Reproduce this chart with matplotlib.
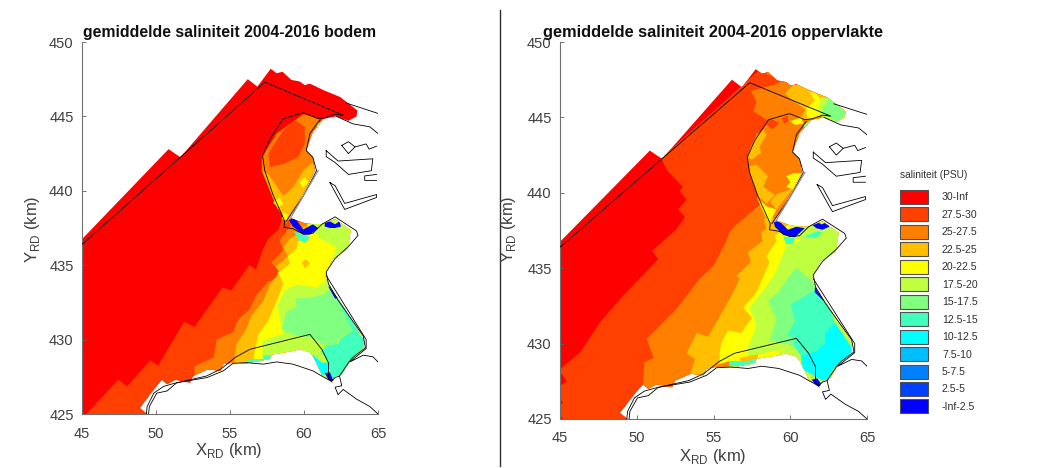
import matplotlib
matplotlib.use("Agg")
import matplotlib.pyplot as plt
from matplotlib.patches import Rectangle

plt.rcParams['font.family'] = ['Liberation Sans', 'DejaVu Sans']
plt.rcParams['mathtext.fontset'] = 'custom'
plt.rcParams['mathtext.rm'] = 'Liberation Sans'

# ---------- salinity classes ----------
CLASS_LABELS = ['30-Inf', '27.5-30', '25-27.5', '22.5-25', '20-22.5', '17.5-20', '15-17.5',
                '12.5-15', '10-12.5', '7.5-10', '5-7.5', '2.5-5', '-Inf-2.5']
CLASS_COLORS = ['#ff0000', '#ff4000', '#ff8000', '#ffbf00', '#ffff00', '#bfff40', '#80ff80',
                '#40ffbf', '#00ffff', '#00bfff', '#0080ff', '#0040ff', '#0000ff']
C = dict(zip(['c30', 'c275', 'c25', 'c225', 'c20', 'c175', 'c15', 'c125', 'c10', 'c75', 'c5', 'c25b', 'c0'],
             CLASS_COLORS))

# ---------- model domain (km, RD coordinates) ----------
DOMAIN = [(45, 425), (45, 436.75), (50.85, 442.8), (51.65, 442.25), (56.2, 447.5), (56.85, 447.0),
          (57.75, 448.2), (58.15, 447.9), (58.55, 448.0), (59.15, 447.45), (59.7, 447.35), (60.05, 447.1),
          (60.4, 447.2), (61.35, 446.75), (62.45, 446.3), (63.6, 445.4), (63.55, 445.0), (63.0, 444.7),
          (62.2, 445.0), (61.4, 444.85), (60.6, 443.95), (60.15, 442.7), (60.6, 442.25), (60.75, 441.35),
          (59.95, 439.8), (58.85, 438.0), (59.15, 438.15), (59.95, 437.85), (60.6, 437.75), (61.2, 437.75),
          (62.1, 438.1), (63.15, 437.35), (62.95, 436.1), (61.95, 435.45), (61.4, 434.3), (61.75, 433.5),
          (62.4, 432.6), (64, 430.05), (64, 429.45), (63.1, 428.55), (62.55, 427.65), (62.1, 427.55),
          (61.9, 427.1), (61.2, 427.65), (60.65, 428.8), (60.4, 429.15), (59.7, 429.35), (59.05, 429.2),
          (57.8, 429.0), (57.7, 428.7), (56.1, 428.4), (55.2, 428.45), (54.55, 428.35), (54.35, 427.9),
          (53.5, 428.0), (52.5, 427.55), (52.3, 427.1), (51.3, 427.3), (50.75, 427.0), (50.4, 427.3),
          (49.85, 426.65), (48.9, 425.4), (49.4, 425)]

# ---------- bottom salinity regions ----------
BODEM_275 = [(45.3, 425), (47.45, 427.3), (48.05, 426.85), (49.6, 428.6), (50.15, 428.25), (51.9, 431.2),
             (52.6, 430.85), (54.5, 433.5), (55.1, 433.3), (56.3, 435), (56.75, 434.7), (57.2, 436),
             (57.6, 436.8), (58.3, 437.4), (58.5, 438.1), (59, 438.6), (70, 438.6), (70, 425)]
BODEM_25 = [(52.6, 425), (52.6, 428.2), (53.9, 428.8), (54.1, 430), (55.2, 430.5), (55.6, 431.4), (56.3, 432),
            (56.8, 433), (57.6, 433.9), (58.05, 434), (58.25, 434.65), (57.8, 435.2), (58.6, 436), (58.35, 436.7),
            (58.8, 437.25), (59.2, 437.9), (70, 437.9), (70, 425)]
BODEM_225 = [(55.3, 425), (55.3, 428.8), (55.45, 429.7), (56.1, 430.7), (56.45, 431.6), (57.25, 432.6),
             (57.8, 433.9), (58.4, 434.5), (58.1, 434.9), (58.9, 435.6), (58.6, 436.2), (59.05, 436.8),
             (59.5, 437.05), (60, 437.6), (70, 437.6), (70, 425)]
BODEM_20 = [(56.6, 425), (56.6, 428.8), (56.9, 430.3), (57.6, 431.3), (58.25, 432.85), (58.6, 433.75),
            (58.25, 434.5), (59.05, 435.1), (58.9, 435.6), (59.5, 436.1), (59.6, 436.6), (60.2, 437),
            (60.2, 438), (70, 438), (70, 425)]
BODEM_SPOT_225 = [(59.85, 435.2), (60.15, 435.4), (60.4, 435.1), (60.05, 434.8)]
BODEM_175 = [(57.2, 425), (57.2, 429.9), (58.6, 430.4), (58.4, 431.2), (58.2, 432.3), (58.7, 433.3), (59.5, 433.7),
             (60.85, 433.5), (61.4, 433.9), (62, 435.6), (62.2, 436.2), (61.05, 436.8), (60.85, 437.1),
             (60.4, 437.1), (60.4, 438.5), (70, 438.5), (70, 425)]
BODEM_15 = [(59.4, 432.75), (60.6, 432.85), (61.5, 433.1), (61.85, 433.55), (62.4, 432.75), (63.1, 431.6),
            (63.3, 430.7), (62.3, 430), (62.1, 429.6), (61.2, 429.7), (60.6, 430.15), (59.5, 430.25),
            (58.5, 430.7), (58.8, 431.85), (59.5, 432.2)]
BODEM_125_SE = [(62.3, 429.7), (62.5, 430.1), (63.3, 430.6), (64.2, 430), (64.2, 429.4), (63.1, 428.5),
                (62.6, 427.4), (61.7, 427.4), (61.7, 428.5), (61.1, 429.2), (61.6, 429.6)]
BODEM_125_COAST = [(61.85, 433.4), (62.55, 432.6), (64, 430.25), (63.3, 430.6), (62.4, 432.4)]
BODEM_125_W = [(56, 428.55), (56.6, 428.7), (57.25, 428.7), (57.25, 428.95), (57.8, 428.95), (57.8, 428.55),
               (57.15, 428.35), (56.1, 428.35)]
BODEM_125_N = [(59.3, 437.3), (59.9, 437.05), (60.4, 436.9), (60.1, 436.5), (59.7, 436.65)]
BODEM_10 = [(60.6, 429), (61.2, 428.45), (61.75, 428.45), (61.65, 427.8), (61.2, 427.6), (60.6, 428.3)]
BODEM_0_A = [(58.95, 438.1), (59.4, 438.15), (59.95, 437.4), (60.6, 437.75), (60.95, 437.5), (60.4, 437.05),
             (59.95, 437.05), (59.25, 437.6)]
BODEM_0_B = [(61.4, 437.85), (61.75, 437.95), (62.1, 437.75), (62.4, 437.95), (62.5, 437.6), (62.1, 437.5),
             (61.75, 437.5), (61.4, 437.6)]
BODEM_0_C = [(61.65, 433.55), (61.85, 433.65), (62.4, 432.85), (62.1, 432.75)]
BODEM_0_D = [(61.4, 427.75), (61.75, 427.8), (62, 427.2), (61.65, 427.3)]
BODEM_BAY_25 = [(59.95, 445.15), (61.05, 444.85), (60.85, 443.85), (60.6, 441.35), (58.8, 437.75), (58.5, 438.55),
                (57.7, 440.2), (57.15, 441.35), (57.15, 442.25), (58.15, 443.85), (59.05, 444.5)]
BODEM_BAY_275 = [(59.4, 444.75), (60.05, 444.3), (60.05, 443.15), (59.6, 442.25), (58.6, 441.8), (57.7, 441.6),
                 (57.6, 442.5), (58.15, 443.4), (58.7, 444.2)]
BODEM_BAY_225 = [(59.95, 441.35), (60.6, 441.9), (60.75, 441.35), (59.95, 439.8), (58.8, 438), (58.15, 438.9),
                 (57.15, 441.35), (57.6, 441.1), (58.6, 439.65), (59.25, 440.2)]
BODEM_BAY_20_A = [(59.7, 440.55), (60.05, 440.9), (60.3, 440.55), (59.95, 440.2)]
BODEM_BAY_20_B = [(57.9, 439.2), (58.35, 439.55), (58.6, 439.1), (58.25, 438.9)]
BODEM_BAY_20_C = [(58.6, 438.6), (58.9, 438.4), (58.85, 438), (58.5, 438.1)]
BODEM_BAY_15 = [(60.85, 444.4), (61.3, 444.85), (61.45, 444.75), (60.95, 444.25)]

# ---------- surface salinity regions ----------
OPP_275 = [(45, 428.3), (46.3, 429.4), (47.6, 431.4), (49, 433.05), (51.4, 435.6), (51, 436.15), (52.6, 437.6),
           (53.15, 438.4), (52.7, 438.9), (53.25, 439.55), (52.8, 440.1), (53, 440.4), (51.95, 441.5),
           (51.6, 442.3), (60, 450), (70, 450), (70, 425), (45, 425)]
OPP_SPOT_30_A = [(45, 428.1), (45.45, 427.5), (45, 427.2)]
OPP_SPOT_30_B = [(45, 426.3), (45.2, 426.1), (45, 425.9)]
OPP_SPOT_30_C = [(45, 425.3), (45.2, 425), (45, 425)]
OPP_25 = [(50.4, 425), (50.4, 427.1), (50.5, 428.75), (51.1, 429.05), (50.65, 430.3), (52.6, 432.3), (54.1, 434.3),
          (55, 435.15), (55.75, 436.6), (56.05, 437.4), (56.4, 437.8), (57.9, 439.1), (58.4, 439.5),
          (70, 439.5), (70, 425)]
OPP_25_NE = [(58.25, 448), (59.45, 447.4), (58.9, 447.15), (57.45, 446.75), (57.8, 446.05), (57.6, 445.4),
             (58.45, 444.85), (60.6, 445), (66, 445), (66, 449), (58.25, 449)]
OPP_225 = [(53.55, 425), (53.55, 428.1), (53.8, 429), (53.25, 429.35), (53.9, 430.7), (54.65, 430.45), (56.3, 433.4),
           (56.7, 434.3), (56.5, 434.5), (57.45, 435.4), (57.25, 436.05), (58.2, 436.8), (58.1, 437.35),
           (58.45, 437.6), (58.25, 438.3), (60, 438.3), (70, 438.3), (70, 425)]
OPP_225_NE = [(59.65, 446.6), (60.2, 447.15), (60.7, 447.15), (61.4, 446.7), (66, 446.7), (66, 444), (60.6, 444.9),
              (61, 445.5), (59.95, 446.3)]
OPP_20 = [(55.4, 425), (55.4, 429.3), (55.5, 430), (55.95, 430.85), (56.8, 430.7), (57.5, 431.7), (56.95, 432.4),
          (57.8, 433.4), (58.65, 435.4), (58.45, 435.8), (59.1, 436.8), (59, 437.15), (60, 438), (70, 438), (70, 425)]
OPP_20_NE = [(61.25, 446.75), (61.7, 446.55), (62, 446.2), (66, 446), (66, 444), (61.1, 445), (61.05, 445.6),
             (61.6, 446.1)]
OPP_175 = [(57.25, 425), (57.25, 429.75), (57.8, 431.2), (57.35, 432.4), (58.45, 433.8), (59.1, 434.8), (59.75, 436.5),
           (60.7, 436.8), (60.2, 437.15), (60.2, 438.5), (70, 438.5), (70, 425)]
OPP_175_NE = [(62, 446.3), (62.55, 446.3), (62.55, 445.8), (63, 445.3), (66, 445), (66, 444), (62, 444.9),
              (61.8, 445.5)]
OPP_15 = [(58.65, 430.2), (59.1, 431.6), (58.55, 432.85), (59.2, 433.4), (59.55, 433.95), (60.4, 435.05),
          (61.6, 433.95), (61.7, 433.6), (60, 432.6), (60.3, 431.5), (59.75, 430.5), (60.3, 430.4),
          (60.2, 429.85), (59.55, 430)]
OPP_15_NE = [(62.55, 446.35), (63.6, 445.4), (63.5, 445), (63, 444.7), (62.5, 445.05), (62.1, 445.3), (62.3, 445.8)]
OPP_125 = [(61.7, 433.6), (62.45, 432.8), (62.9, 431.4), (62.25, 430.7), (62.25, 430), (61.7, 429.5), (60.7, 429.2),
           (60.2, 429.85), (60.3, 430.4), (59.75, 430.5), (60.3, 431.5), (60, 432.6)]
OPP_10 = [(62.25, 430.7), (62.9, 431.4), (64.1, 429.6), (64.1, 429.3), (62.8, 428.3), (62.35, 427.4), (61.6, 427.85),
          (60.75, 428.3), (60.7, 429.2), (61.7, 429.5), (62.25, 430)]
OPP_125_N = [(60.9, 437.1), (61.8, 437.45), (62.1, 437.4), (61.7, 437)]
OPP_125_M = [(59.55, 437.1), (60.3, 437), (60.2, 436.6), (59.7, 436.6)]
OPP_25_W = [(55, 428.5), (56.05, 428.85), (56.05, 428.5), (55.4, 428.4)]
OPP_125_W = [(56.05, 428.85), (57.25, 428.85), (57.8, 429.05), (57.8, 428.85), (57.25, 428.5), (56.05, 428.5)]
OPP_225_W = [(56.7, 429.05), (57.9, 429.3), (57.9, 429.05), (57.25, 428.85), (56.7, 428.85)]
OPP_20_W = [(57.9, 429.3), (59.5, 429.6), (59, 429.1), (57.9, 429.05)]
OPP_0_A = [(58.9, 438.2), (59.4, 438), (59.85, 437.55), (60.4, 437.75), (60.95, 437.65), (60.3, 437.05), (59.55, 437.2),
           (59, 437.75)]
OPP_0_B = [(61.4, 437.9), (61.7, 438.1), (62.05, 437.9), (62.45, 438.1), (62.55, 437.75), (62.1, 437.55), (61.7, 437.65)]
OPP_0_C = [(61.6, 433.7), (61.9, 433.7), (62.45, 432.95), (62.15, 432.85), (61.6, 433.4)]
OPP_0_D = [(61.4, 427.6), (61.75, 427.7), (62, 427.35), (61.8, 427)]
OPP_BAY_25 = [(62.1, 445.15), (61.4, 444.9), (60.95, 444.85), (59.95, 445.25), (58.6, 444.85), (57.7, 443.5),
              (57.2, 442.35), (57.35, 441.35), (57.9, 439.75), (58.4, 439.1), (60, 439.1), (62, 441)]
OPP_BAY_225_A = [(57.35, 442.85), (57.8, 443.85), (58.25, 444.2), (58.45, 443.85), (58, 443.05), (58.1, 442.65),
                 (57.5, 442.2), (57.2, 442.35)]
OPP_BAY_225_B = [(57.35, 441.75), (57.8, 441.85), (58.55, 441.1), (58.25, 440.4), (59, 439.85), (58.45, 439.3),
                 (57.9, 439.75), (57.35, 441.35)]
OPP_BAY_225_C = [(59.1, 439.9), (60.2, 440.3), (59.1, 438.9), (58.7, 439.4)]
OPP_BAY_20_A = [(57.8, 439.75), (58.45, 439.1), (59.1, 438.9), (58.65, 438), (58.3, 438.6)]
OPP_BAY_20_B = [(59.75, 441.1), (60.2, 441.3), (60.85, 441.3), (60.2, 440.2), (59.75, 440.4), (60, 440.7)]
OPP_BAY_20_C = [(60, 444.75), (60.7, 445), (60.85, 444.6), (60.3, 444.5)]
OPP_BAY_275_A = [(58.45, 444.5), (58.7, 444.9), (59.05, 444.75), (59.25, 444.6), (58.85, 444.2)]
OPP_BAY_275_B = [(59.45, 444.95), (59.85, 445.1), (59.85, 444.7), (59.6, 444.6)]
OPP_BAY_15 = [(60.85, 444.5), (61.4, 444.85), (61.5, 444.75), (61, 444.2)]

BODEM_LAYERS = [
    (BODEM_275, 'c275'), (BODEM_25, 'c25'), (BODEM_225, 'c225'), (BODEM_20, 'c20'), (BODEM_SPOT_225, 'c225'),
    (BODEM_175, 'c175'), (BODEM_15, 'c15'), (BODEM_125_SE, 'c125'), (BODEM_125_COAST, 'c125'), (BODEM_125_W, 'c125'),
    (BODEM_125_N, 'c125'), (BODEM_10, 'c10'), (BODEM_0_A, 'c0'), (BODEM_0_B, 'c0'), (BODEM_0_C, 'c0'), (BODEM_0_D, 'c0'),
    (BODEM_BAY_25, 'c25'), (BODEM_BAY_275, 'c275'), (BODEM_BAY_225, 'c225'), (BODEM_BAY_20_A, 'c20'),
    (BODEM_BAY_20_B, 'c20'), (BODEM_BAY_20_C, 'c20'), (BODEM_BAY_15, 'c15'),
]
OPP_LAYERS = [
    (OPP_275, 'c275'), (OPP_SPOT_30_A, 'c30'), (OPP_SPOT_30_B, 'c30'), (OPP_SPOT_30_C, 'c30'), (OPP_25, 'c25'),
    (OPP_25_NE, 'c25'), (OPP_225, 'c225'), (OPP_225_NE, 'c225'), (OPP_20, 'c20'), (OPP_20_NE, 'c20'), (OPP_175, 'c175'),
    (OPP_175_NE, 'c175'), (OPP_15, 'c15'), (OPP_15_NE, 'c15'), (OPP_125, 'c125'), (OPP_10, 'c10'), (OPP_125_N, 'c125'),
    (OPP_125_M, 'c125'), (OPP_25_W, 'c25'), (OPP_125_W, 'c125'), (OPP_225_W, 'c225'), (OPP_20_W, 'c20'),
    (OPP_0_A, 'c0'), (OPP_0_B, 'c0'), (OPP_0_C, 'c0'), (OPP_0_D, 'c0'),
    (OPP_BAY_25, 'c25'), (OPP_BAY_225_A, 'c225'), (OPP_BAY_225_B, 'c225'), (OPP_BAY_225_C, 'c225'), (OPP_BAY_20_A, 'c20'),
    (OPP_BAY_20_B, 'c20'), (OPP_BAY_20_C, 'c20'), (OPP_BAY_275_A, 'c275'), (OPP_BAY_275_B, 'c275'), (OPP_BAY_15, 'c15'),
]

# ---------- black outlines (km) ----------
MODEL_LINE = [(45, 436.4), (57.36, 447.3), (62.64, 445.08), (62.1, 445.15), (61.4, 444.9), (60.95, 444.85), (59.95, 445.25),
              (58.6, 444.85), (57.7, 443.5), (57.2, 442.35), (57.35, 441.35), (57.9, 439.75), (58.7, 437.95), (58.65, 437.55),
              (59.25, 437.45), (59.95, 437.1), (60.6, 437.15), (61.2, 437.75), (62.1, 438.25), (63.55, 437.3), (63.65, 437),
              (63, 436.25), (62.1, 435.45), (61.5, 434.55), (61.65, 433.75), (62.3, 432.65), (64, 430.25), (64.15, 429.45),
              (63.3, 428.8), (63, 428.45), (62.4, 427.55), (62.1, 427.45), (61.85, 427.2), (61.65, 427.45), (61.65, 428.45),
              (61.2, 429.35), (60.4, 430.35), (56.35, 429.35), (55.35, 428.8), (54.8, 428.35), (54.35, 428), (53.4, 427.55),
              (52.3, 427.3), (51.2, 427.05), (50.5, 426.85), (49.85, 426.4), (49.4, 425.5), (49.35, 425)]
COAST_SOUTH = [(49.5, 425), (49.55, 425.5), (50.05, 426.4), (50.75, 426.55), (51.4, 427.1), (53.45, 427.45), (54.55, 427.9),
               (55.2, 428.4), (56.1, 428.45), (57.25, 428.35), (58.15, 428.5), (59.25, 428.35), (60.6, 427.9), (61.2, 427.55),
               (61.85, 427.2)]
COAST_EAST = [(61.5, 434.3), (62.35, 432.95), (64.2, 430), (64.2, 429.4), (63.1, 428.5), (64, 428.95), (64.65, 428.85), (65, 428.5)]
COAST_SE = [(62.4, 427.55), (62.55, 426.9), (62.1, 426.8), (62.3, 426.3), (62.65, 426.65), (63.55, 426), (64.45, 425.5), (65, 425)]
PORT_NORTH_A = [(62.85, 445.9), (65, 445.2)]
PORT_NORTH_B = [(62.2, 445), (63.3, 444.5), (64.45, 444.3), (65, 443.85)]
PORT_INNER = [(61.05, 444.75), (60.4, 443.85), (60.15, 442.7), (60.6, 442.25), (60.85, 441.35), (59.95, 439.65), (58.8, 437.95)]
PORT_A = [(62.55, 443.05), (63, 443.3), (63.45, 442.95), (63, 442.5), (62.55, 443.05)]
PORT_A2 = [(63.45, 442.95), (64.2, 443.15), (64.4, 442.8), (64.9, 443.0)]
PORT_B = [(61.5, 442.7), (62.3, 442), (64.65, 442.15), (64.55, 441.35), (63, 441.1), (62.1, 441.9), (61.5, 442.3), (61.5, 442.7)]
PORT_C = [(64.9, 441.1), (64.1, 441), (64.1, 440.7), (64.9, 440.7)]
PORT_D = [(61.75, 440.55), (62.55, 439.1), (62.75, 438.75), (64.9, 439.55), (64.9, 439.75), (62.75, 439.15), (62.1, 440.35),
          (61.75, 440.55)]
OUTLINES = [MODEL_LINE, COAST_SOUTH, COAST_EAST, COAST_SE, PORT_NORTH_A, PORT_NORTH_B, PORT_INNER,
            PORT_A, PORT_A2, PORT_B, PORT_C, PORT_D]
GREY_LINE = [(60.95, 441.35), (59.05, 438.1)]

X_TICKS = [45, 50, 55, 60, 65]
Y_TICKS = [425, 430, 435, 440, 445, 450]
TITLE_LEFT = 'gemiddelde saliniteit 2004-2016 bodem'
TITLE_RIGHT = 'gemiddelde saliniteit 2004-2016 oppervlakte'
LEGEND_TITLE = 'saliniteit (PSU)'

W, H = 1052, 468
fig = plt.figure(figsize=(W / 100, H / 100), dpi=100)
TXT = '#404040'


def rect(x0, x1, y0, y1):
    return [x0 / W, 1 - y1 / H, (x1 - x0) / W, (y1 - y0) / H]


def panel(pos, layers, title, title_x, title_size, xlab_x, xlab_y, ylab_x):
    ax = fig.add_axes(rect(*pos))
    ax.set_xlim(45, 65)
    ax.set_ylim(425, 450)
    xs, ys = zip(*DOMAIN)
    dom = ax.fill(xs, ys, color=C['c30'], lw=0, zorder=1)[0]
    for i, (poly, key) in enumerate(layers):
        xs, ys = zip(*poly)
        p = ax.fill(xs, ys, color=C[key], lw=0, zorder=2 + i * 0.01)[0]
        p.set_clip_path(dom)
    for line in OUTLINES:
        xs, ys = zip(*line)
        ax.plot(xs, ys, color='black', lw=0.6, zorder=5)
    xs, ys = zip(*GREY_LINE)
    ax.plot(xs, ys, color='#909090', lw=0.9, zorder=5)
    for s in ('top', 'right'):
        ax.spines[s].set_visible(False)
    for s in ('left', 'bottom'):
        ax.spines[s].set_color('#707070')
        ax.spines[s].set_linewidth(0.8)
    ax.set_xticks(X_TICKS)
    ax.set_yticks(Y_TICKS)
    ax.tick_params(direction='in', length=3, width=0.6, color='#606060', labelcolor=TXT, labelsize=10.6)
    ax.tick_params(axis='x', pad=9)
    ax.tick_params(axis='y', pad=6)
    fig.text(title_x / W, 1 - 33 / H, title, ha='center', va='center', fontsize=title_size, fontweight='bold',
             color='#101010')
    fig.text(xlab_x / W, 1 - xlab_y / H, r'X$_{\mathrm{RD}}$ (km)', ha='center', va='center',
             fontsize=12, color=TXT)
    fig.text(ylab_x / W, 1 - 229 / H, r'Y$_{\mathrm{RD}}$ (km)', ha='center', va='center', rotation=90,
             fontsize=12, color=TXT)
    return ax


panel((82, 378, 42, 414), BODEM_LAYERS, TITLE_LEFT, 230, 11.4, 229, 451, 33)
panel((560, 867, 42, 419), OPP_LAYERS, TITLE_RIGHT, 713, 11.8, 713, 456, 509)

# divider between the panels
fig.add_artist(plt.Line2D([500 / W, 500 / W], [1 - 10 / H, 1 - 466 / H], color='#303030', lw=1.0))

# class legend
fig.text(900 / W, 1 - 175 / H, LEGEND_TITLE, ha='left', va='center', fontsize=7.3, color='#303030')
for i, (lab, col) in enumerate(zip(CLASS_LABELS, CLASS_COLORS)):
    top = 190 + i * 17.45
    fig.add_artist(Rectangle((899.5 / W, 1 - (top + 14) / H), 28 / W, 14 / H, transform=fig.transFigure,
                             facecolor=col, edgecolor='#505050', lw=0.8))
    fig.text(942 / W, 1 - (top + 7.5) / H, lab, ha='left', va='center', fontsize=7.6, color='#303030')

fig.savefig('out.png', dpi=100)
